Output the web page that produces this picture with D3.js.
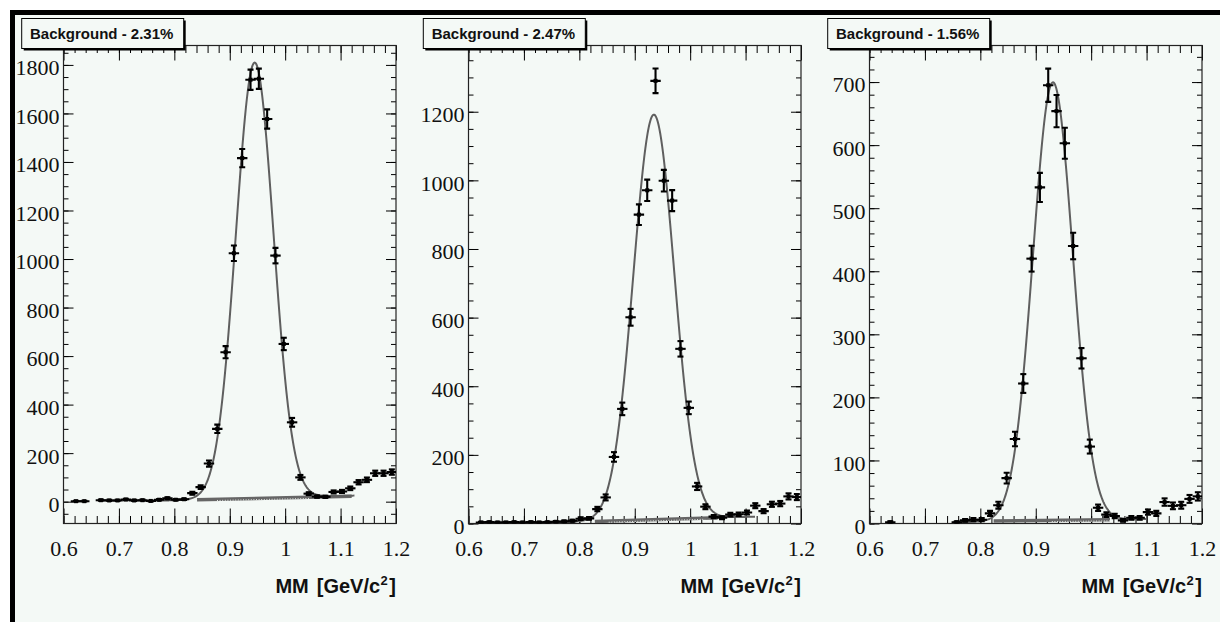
<!DOCTYPE html>
<html><head><meta charset="utf-8">
<script src="https://cdn.jsdelivr.net/npm/d3@7"></script>
<style>
html,body{margin:0;padding:0;background:#fff;}
svg{display:block;}
</style></head><body>
<svg id="fig" width="1220" height="622"></svg>
<script>
// Missing-mass histograms: bin centres in GeV/c^2 (15 MeV bins)
const massBins = [0.6075,0.6225,0.6375,0.6525,0.6675,0.6825,0.6975,0.7125,0.7275,0.7425,
                  0.7575,0.7725,0.7875,0.8025,0.8175,0.8325,0.8475,0.8625,0.8775,0.8925,
                  0.9075,0.9225,0.9375,0.9525,0.9675,0.9825,0.9975,1.0125,1.0275,1.0425,
                  1.0575,1.0725,1.0875,1.1025,1.1175,1.1325,1.1475,1.1625,1.1775,1.1925];
const binHalfWidth = 0.0075;

// Entries per bin (null = empty bin)
const countsA = [null,2,2,null,6,5,5,9,5,6,
                 3,8,14,8,10,35,60,157,300,616,
                 1024,1416,1739,1743,1577,1014,650,327,100,33,
                 21,20,40,42,55,80,90,117,117,122];
const countsB = [null,3,4,3,3,4,3,4,3,4,
                 5,6,8,14,15,42,76,194,334,601,
                 900,971,1290,999,941,509,337,108,49,20,
                 17,26,27,32,52,36,56,58,79,77];
const countsC = [null,null,2,null,null,null,null,null,null,null,
                 2,5,6,6,16,29,72,134,222,420,
                 533,695,654,603,440,262,122,25,14,12,
                 5,9,9,18,16,34,28,29,39,43];

// Axis ticks and labels
const xTickValues = [0.6,0.7,0.8,0.9,1.0,1.1,1.2];
const xTickLabels = ["0.6","0.7","0.8","0.9","1","1.1","1.2"];
const yTicksA = [0,200,400,600,800,1000,1200,1400,1600,1800];
const yTicksB = [0,200,400,600,800,1000,1200];
const yTicksC = [0,100,200,300,400,500,600,700];
const yDomains = [[-90,1880],[0,1393],[0,758]];
const yMinorSteps = [50,50,20];
const xMinorStep = 0.02;

// Fit results: Gaussian signal on a linear background
const fitAmp = [1795,1180,695];
const fitMean = [0.945,0.9345,0.931];
const fitSigma = [0.034,0.037,0.036];
const fitRange = [[0.77,1.125],[0.75,1.117],[0.75,1.10]];
const fitBgEnds = [[4,25],[3,20],[2,7]];
// Background component under the peak
const bgRange = [[0.841,1.12],[0.828,1.05],[0.824,1.034]];
const bgEnds = [[8,22],[6,17],[4,6]];
const bgHatchRange = [[0.877,1.045],[0.853,1.027],[0.929,1.034]];

const bgLabels = ["Background - 2.31%","Background - 2.47%","Background - 1.56%"];
const xTitleMain = "MM", xTitleUnit = "[GeV/c", xTitleExp = "2", xTitleClose = "]";

const counts = [countsA,countsB,countsC];
const yTicks = [yTicksA,yTicksB,yTicksC];

// Pad geometry
const frames = [
  {left:63.5, right:396, box:21.7, text:30},
  {left:468.5, right:801, box:423.3, text:431.7},
  {left:869.5, right:1202, box:827.7, text:836}
];
const frameTop = 45.5, frameBottom = 523.5;
const paper = "#f4f9f6";

const svg = d3.select("#fig");
svg.append("rect").attr("x",10).attr("y",10).attr("width",1210).attr("height",612).attr("fill",paper);
svg.append("rect").attr("x",10).attr("y",10).attr("width",1210).attr("height",5).attr("fill","#000");
svg.append("rect").attr("x",10).attr("y",10).attr("width",5).attr("height",612).attr("fill","#000");

frames.forEach((f,i) => {
  const g = svg.append("g");
  const x = d3.scaleLinear().domain([0.6,1.2]).range([f.left,f.right]);
  const y = d3.scaleLinear().domain(yDomains[i]).range([frameBottom,frameTop]);

  const clipId = "clip"+i;
  svg.append("clipPath").attr("id",clipId).append("rect")
    .attr("x",f.left).attr("y",frameTop).attr("width",f.right-f.left).attr("height",frameBottom-frameTop);

  const xMinor = d3.range(0.6, 1.2+1e-9, xMinorStep);
  const yd = yDomains[i];
  const yMinor = d3.range(Math.ceil(yd[0]/yMinorSteps[i])*yMinorSteps[i], yd[1]+1e-9, yMinorSteps[i]);

  const style = sel => {
    sel.select(".domain").remove();
    sel.selectAll(".tick line").attr("stroke","#000").attr("stroke-width",1);
  };

  // minor ticks
  g.append("g").attr("transform",`translate(0,${frameBottom})`)
    .call(d3.axisBottom(x).tickValues(xMinor).tickSize(-7.5).tickFormat("")).call(style);
  g.append("g").attr("transform",`translate(0,${frameTop})`)
    .call(d3.axisTop(x).tickValues(xMinor).tickSize(-7.5).tickFormat("")).call(style);
  g.append("g").attr("transform",`translate(${f.left},0)`)
    .call(d3.axisLeft(y).tickValues(yMinor).tickSize(-5).tickFormat("")).call(style);
  g.append("g").attr("transform",`translate(${f.right},0)`)
    .call(d3.axisRight(y).tickValues(yMinor).tickSize(-5).tickFormat("")).call(style);

  // major ticks with labels
  const xb = g.append("g").attr("transform",`translate(0,${frameBottom})`)
    .call(d3.axisBottom(x).tickValues(xTickValues).tickSize(-15).tickPadding(17)
      .tickFormat((d,k) => xTickLabels[k])).call(style);
  g.append("g").attr("transform",`translate(0,${frameTop})`)
    .call(d3.axisTop(x).tickValues(xTickValues).tickSize(-15).tickFormat("")).call(style);
  const yl = g.append("g").attr("transform",`translate(${f.left},0)`)
    .call(d3.axisLeft(y).tickValues(yTicks[i]).tickSize(-10).tickPadding(4)
      .tickFormat(d3.format("d"))).call(style);
  g.append("g").attr("transform",`translate(${f.right},0)`)
    .call(d3.axisRight(y).tickValues(yTicks[i]).tickSize(-10).tickFormat("")).call(style);

  [xb,yl].forEach(a => a.selectAll("text")
    .attr("font-family","'Liberation Serif','Times New Roman',serif")
    .attr("font-size",22).attr("fill","#111"));
  yl.selectAll("text").attr("dy","0.45em");

  // frame
  g.append("rect").attr("x",f.left).attr("y",frameTop)
    .attr("width",f.right-f.left).attr("height",frameBottom-frameTop)
    .attr("fill","none").attr("stroke","#222").attr("stroke-width",1.2);

  const plot = g.append("g").attr("clip-path",`url(#${clipId})`);

  // background component
  const [b0,b1] = bgRange[i];
  const bgVal = xv => bgEnds[i][0] + (bgEnds[i][1]-bgEnds[i][0])*(xv-b0)/(b1-b0);
  plot.append("line").attr("x1",x(b0)).attr("x2",x(b1))
    .attr("y1",y(bgVal(b0))).attr("y2",y(bgVal(b1)))
    .attr("stroke","#666").attr("stroke-width",3.5);
  const [h0,h1] = bgHatchRange[i];
  plot.append("line").attr("x1",x(h0)).attr("x2",x(h1))
    .attr("y1",y(bgVal(h0))+1.2).attr("y2",y(bgVal(h1))+1.2)
    .attr("stroke","#e8ece9").attr("stroke-width",1).attr("stroke-dasharray","1,1.6");

  // fit curve
  const [lo,hi] = fitRange[i];
  const fitFn = xv => fitAmp[i]*Math.exp(-0.5*Math.pow((xv-fitMean[i])/fitSigma[i],2))
                    + fitBgEnds[i][0] + (fitBgEnds[i][1]-fitBgEnds[i][0])*(xv-lo)/(hi-lo);
  const xs = d3.range(lo, hi+1e-9, 0.001);
  plot.append("path").datum(xs)
    .attr("d", d3.line().x(d => x(d)).y(d => y(fitFn(d))))
    .attr("fill","none").attr("stroke","#5f5f5f").attr("stroke-width",2);

  // data points with error bars
  const pts = massBins.map((c,k) => ({c, n: counts[i][k]})).filter(d => d.n !== null);
  const pg = plot.append("g").attr("stroke","#000").attr("stroke-width",2.1).attr("fill","#000");
  pts.forEach(d => {
    const e = Math.sqrt(d.n);
    const cx = x(d.c), cy = y(d.n);
    const yTop = y(d.n+e), yBot = y(d.n-e);
    pg.append("line").attr("x1",x(d.c-binHalfWidth)).attr("x2",x(d.c+binHalfWidth))
      .attr("y1",cy).attr("y2",cy).attr("stroke-linecap","square");
    pg.append("line").attr("x1",cx).attr("x2",cx).attr("y1",yTop).attr("y2",yBot);
    pg.append("line").attr("x1",cx-3).attr("x2",cx+3).attr("y1",yTop).attr("y2",yTop);
    pg.append("line").attr("x1",cx-3).attr("x2",cx+3).attr("y1",yBot).attr("y2",yBot);
    pg.append("rect").attr("x",cx-2).attr("y",cy-2).attr("width",4).attr("height",4).attr("stroke","none");
  });

  // axis title
  const t = g.append("text").attr("x",f.right).attr("y",593)
    .attr("text-anchor","end").attr("font-family","'Liberation Sans',Arial,sans-serif")
    .attr("font-weight","bold").attr("font-size",20).attr("fill","#111");
  t.append("tspan").text(xTitleMain);
  t.append("tspan").attr("dx",8).text(xTitleUnit);
  t.append("tspan").attr("dy",-8).attr("dx",0.5).attr("font-size",13).text(xTitleExp);
  t.append("tspan").attr("dy",8).attr("dx",1.5).text(xTitleClose);

  // label box with shadow
  const bw = 162, bh = 30, by = 18.5;
  g.append("rect").attr("x",f.box+2).attr("y",by+2).attr("width",bw).attr("height",bh).attr("fill","#000");
  g.append("rect").attr("x",f.box).attr("y",by).attr("width",bw).attr("height",bh)
    .attr("fill",paper).attr("stroke","#000").attr("stroke-width",1);
  g.append("text").attr("x",f.text).attr("y",38.5)
    .attr("font-family","'Liberation Sans',Arial,sans-serif").attr("font-weight","bold")
    .attr("font-size",15).attr("fill","#111").text(bgLabels[i]);
});
</script>
</body></html>
